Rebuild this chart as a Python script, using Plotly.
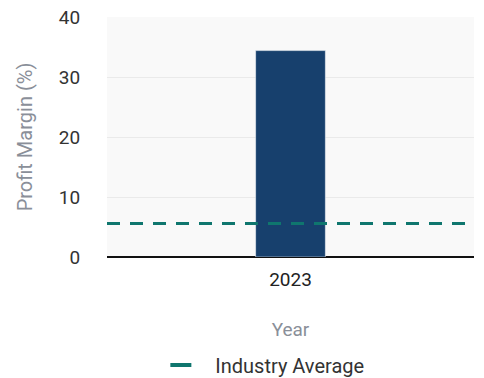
import plotly.graph_objects as go

years = ["2023"]
profit_margin = [34.4]
industry_average = 5.6
y_ticks = [0, 10, 20, 30, 40]

fig = go.Figure()
fig.add_trace(go.Bar(
    x=years, y=profit_margin, width=0.19,
    marker=dict(color="#17406d", line=dict(color="rgba(255,255,255,0.5)", width=1)),
    showlegend=False, name="Profit Margin",
))
# dashed reference line across the full plot width
fig.add_trace(go.Scatter(
    x=[0, 1], y=[industry_average, industry_average], xaxis="x2",
    mode="lines", name="Industry Average", showlegend=False,
    line=dict(color="#0f766e", width=3, dash="13px,10px"),
))
# legend entry (single short dash symbol)
fig.add_trace(go.Scatter(
    x=[None], y=[None], xaxis="x2",
    mode="lines", name="\u00a0\u00a0Industry Average",
    line=dict(color="#0f766e", width=4, dash="21px,200px"),
))

fig.update_layout(
    width=484, height=378,
    margin=dict(l=107, r=10, t=17, b=121, autoexpand=False),
    paper_bgcolor="white", plot_bgcolor="#f9f9f9",
    font=dict(family="Roboto", size=19, color="#222"),
    xaxis=dict(title=dict(text="Year", font=dict(color="#8a8f99", size=19), standoff=32),
               showgrid=False, tickfont=dict(size=19, color="#222"), range=[-0.5, 0.5],
               ticks="outside", ticklen=5, tickcolor="rgba(0,0,0,0)"),
    xaxis2=dict(overlaying="x", range=[0, 1], visible=False),
    yaxis=dict(title=dict(text="Profit Margin (%)", font=dict(color="#8a8f99", size=20), standoff=20),
               range=[0, 40], tickvals=y_ticks, gridcolor="#eaeaea",
               zeroline=True, zerolinecolor="#111", zerolinewidth=2,
               ticks="outside", ticklen=22, tickcolor="rgba(0,0,0,0)",
               tickfont=dict(size=19, color="#333")),
    legend=dict(orientation="h", x=0.159, xanchor="left", y=-0.45, yanchor="middle",
                font=dict(size=20, color="#333")),
)
fig.write_html("out.html")
